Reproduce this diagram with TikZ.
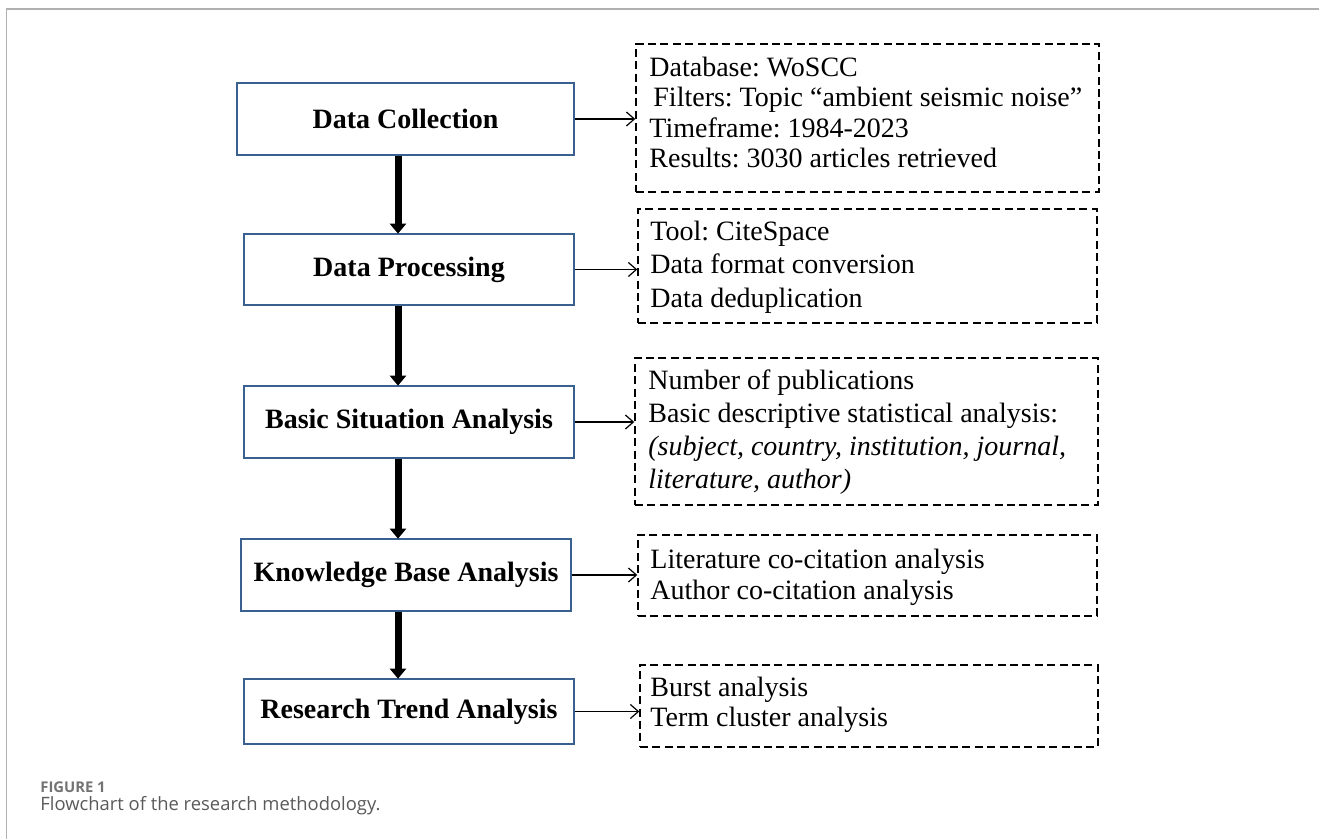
\documentclass[tikz,border=0pt]{standalone}
\usepackage{fontspec}
\setmainfont{Liberation Serif}
\newfontfamily\capfont{Open Sans}
\usetikzlibrary{arrows.meta}
\frenchspacing
\definecolor{boxline}{HTML}{3A6090}
\definecolor{framegray}{HTML}{B0B0B0}
\definecolor{capgray}{HTML}{5A5A5A}
\tikzset{
  stage/.style={draw=boxline, line width=0.9pt, fill=white, inner sep=0pt,
    font=\fontsize{14pt}{16pt}\selectfont\bfseries},
  detail/.style={draw=black, line width=0.7pt, dash pattern=on 4pt off 2.2pt, inner sep=0pt},
  detailtext/.style={anchor=west, inner sep=0pt, align=left,
    font=\fontsize{14pt}{15.2pt}\selectfont},
  flow/.style={line width=3.5pt, -{Triangle[width=8pt,length=5pt]}, shorten >=-0.3pt},
  link/.style={line width=0.6pt, -{Straight Barb[length=4pt,width=7pt,line width=0.6pt]}},
}
\begin{document}
\begin{tikzpicture}[x=0.5pt,y=-0.5pt]
\useasboundingbox (0,0) rectangle (1319,839);
% frame
\draw[framegray, line width=0.8pt] (1319,9) -- (6.5,9) -- (6.5,839);

% stage boxes
\node[stage, minimum width=168.5pt, minimum height=36pt] (b1) at (405.5,119) {Data Collection};
\node[stage, minimum width=165pt, minimum height=35.5pt] (b2) at (409,269.5) {Data Processing};
\node[stage, minimum width=165pt, minimum height=36pt] (b3) at (409,422) {Basic Situation Analysis};
\node[stage, minimum width=165pt, minimum height=36pt] (b4) at (406,575) {Knowledge Base Analysis};
\node[stage, minimum width=165pt, minimum height=32.5pt] (b5) at (409,711.5) {Research Trend Analysis};

% detail boxes
\node[detail, minimum width=231.5pt, minimum height=74pt] (dA) at (867.5,118) {};
\node[detail, minimum width=229.5pt, minimum height=57pt] (dB) at (867.5,266) {};
\node[detail, minimum width=231.5pt, minimum height=73.5pt] (dC) at (866.5,431.5) {};
\node[detail, minimum width=229.5pt, minimum height=40.5pt] (dD) at (867.5,575.5) {};
\node[detail, minimum width=229pt, minimum height=41pt] (dE) at (869,706) {};

\node[detailtext] (tA) at (649,112.5) {Database: WoSCC\\\hspace{2pt}Filters: Topic “ambient seismic noise”\\Timeframe: 1984-2023\\Results: 3030 articles retrieved};
\node[detailtext, font=\fontsize{14pt}{16.7pt}\selectfont] (tB) at (650,267) {Tool: CiteSpace\\Data format conversion\\Data deduplication};
\node[detailtext, font=\fontsize{14pt}{16.5pt}\selectfont] (tC) at (648,432) {Number of publications\\Basic descriptive statistical analysis:\\\textit{(subject, country, institution, journal,}\\\textit{literature, author)}};
\node[detailtext] (tD) at (650,577.5) {Literature co-citation analysis\\Author co-citation analysis};
\node[detailtext] (tE) at (650,705) {Burst analysis\\Term cluster analysis};

% thick flow arrows
\draw[flow] (b1.south -| 398,0) -- (b2.north -| 398,0);
\draw[flow] (b2.south -| 398,0) -- (b3.north -| 398,0);
\draw[flow] (b3.south -| 398,0) -- (b4.north -| 398,0);
\draw[flow] (b4.south -| 398,0) -- (b5.north -| 398,0);

% thin links
\draw[link] (b1.east) -- (b1.east -| dA.west);
\draw[link] (b2.east) -- (b2.east -| dB.west);
\draw[link] (b3.east) -- (b3.east -| dC.west);
\draw[link] (b4.east) -- (b4.east -| dD.west);
\draw[link] (b5.east) -- (b5.east -| dE.west);

% caption
\node[anchor=base west, inner sep=0pt, font=\capfont\fontsize{7.4pt}{9pt}\selectfont\bfseries, text=capgray!85] (cap1) at (40,792) {FIGURE 1};
\node[anchor=base west, inner sep=0pt, font=\capfont\fontsize{9.2pt}{11pt}\selectfont, text=capgray] (cap2) at (40,811) {Flowchart of the research methodology.};
\end{tikzpicture}
\end{document}
